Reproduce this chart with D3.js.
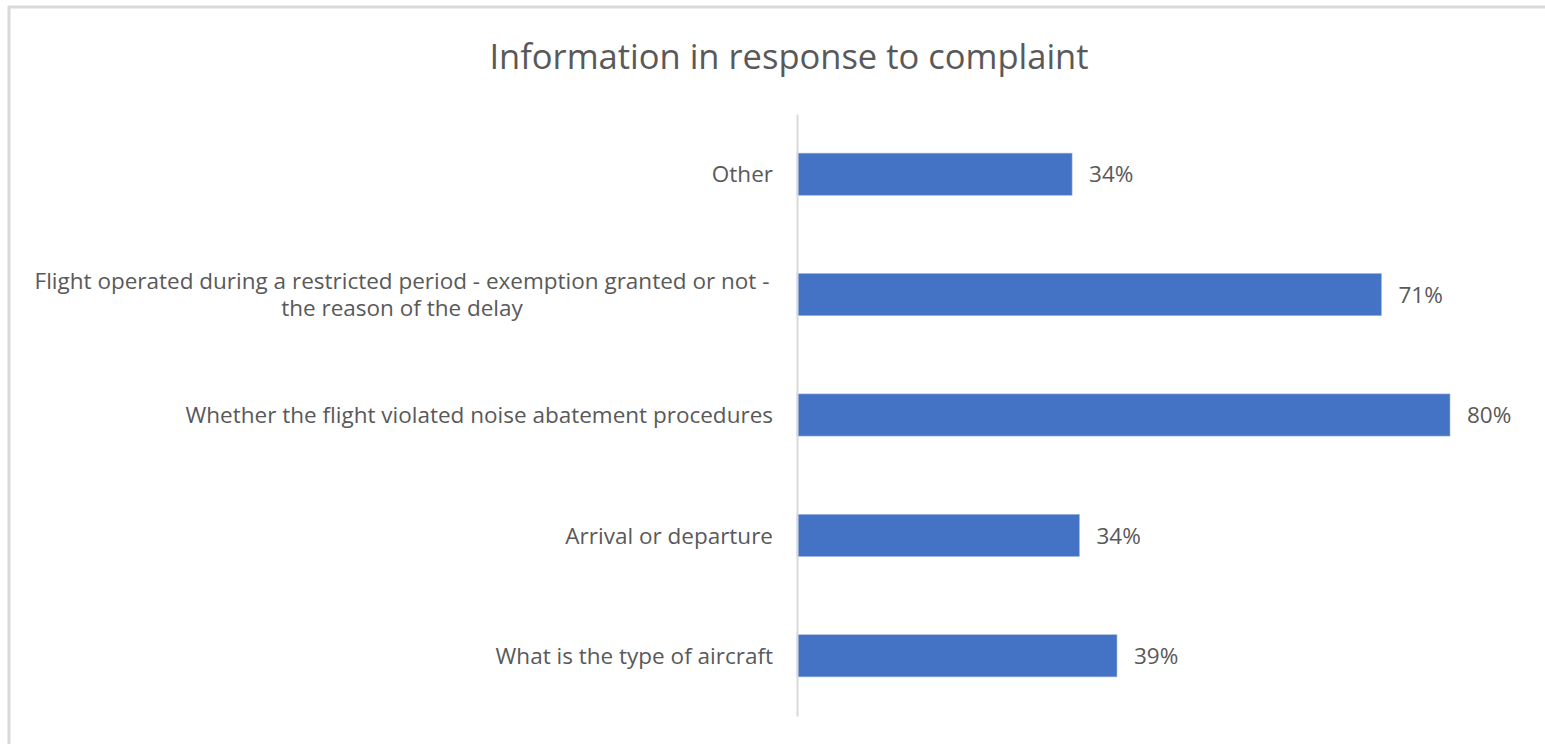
<!DOCTYPE html>
<html><head><meta charset="utf-8">
<script src="https://cdn.jsdelivr.net/npm/d3@7"></script>
<style>html,body{margin:0;padding:0;background:#fff;}svg{display:block;}</style>
</head><body>
<svg id="chart" width="1545" height="744"></svg>
<script>
const title = "Information in response to complaint";
const categories = [
  "Other",
  "Flight operated during a restricted period - exemption granted or not - the reason of the delay",
  "Whether the flight violated noise abatement procedures",
  "Arrival or departure",
  "What is the type of aircraft"
];
const categoryLines = [
  ["Other"],
  ["Flight operated during a restricted period - exemption granted or not -", "the reason of the delay"],
  ["Whether the flight violated noise abatement procedures"],
  ["Arrival or departure"],
  ["What is the type of aircraft"]
];
const values = [0.337, 0.716, 0.80, 0.346, 0.392];
const valueLabels = ["34%", "71%", "80%", "34%", "39%"];

const svg = d3.select("#chart");
const font = "'Open Sans', 'Liberation Sans', sans-serif";
const textColor = "#595959";

// frame
svg.append("line").attr("x1", 8).attr("x2", 1545).attr("y1", 7).attr("y2", 7)
  .attr("stroke", "#d9d9d9").attr("stroke-width", 3);
svg.append("line").attr("x1", 9).attr("x2", 9).attr("y1", 6).attr("y2", 744)
  .attr("stroke", "#d9d9d9").attr("stroke-width", 3);

const plotLeft = 797, plotTop = 114, plotBottom = 716;
const x = d3.scaleLinear().domain([0, 0.9]).range([plotLeft, plotLeft + 653 * 0.9 / 0.8]);
const y = d3.scaleBand().domain(categories).range([plotTop, plotBottom]).paddingInner(0.65).paddingOuter(0.325);

svg.append("text").attr("x", 789).attr("y", 69).attr("text-anchor", "middle")
  .attr("font-family", font).attr("font-size", 34.5).attr("fill", textColor).text(title);

svg.selectAll("rect.bar").data(categories).join("rect").attr("class", "bar")
  .attr("x", x(0)).attr("y", d => y(d))
  .attr("width", (d, i) => x(values[i]) - x(0)).attr("height", y.bandwidth())
  .attr("fill", "#4472C4").attr("stroke", "#9db5e0").attr("stroke-width", 0.6);

svg.selectAll("text.val").data(categories).join("text").attr("class", "val")
  .attr("x", (d, i) => x(values[i]) + 17).attr("y", d => y(d) + y.bandwidth() / 2)
  .attr("dy", "0.36em").attr("font-family", font).attr("font-size", 22.5).attr("fill", textColor)
  .text((d, i) => valueLabels[i]);

const labels = svg.selectAll("text.cat").data(categories).join("text").attr("class", "cat")
  .attr("font-family", font).attr("font-size", 22.5).attr("fill", textColor);
labels.each(function(d, i) {
  const lines = categoryLines[i];
  const cy = y(d) + y.bandwidth() / 2;
  const lh = 27;
  const el = d3.select(this);
  lines.forEach((ln, j) => {
    const ly = cy + (j - (lines.length - 1) / 2) * lh;
    el.append("tspan").attr("x", lines.length > 1 ? 402 : 773).attr("y", ly).attr("dy", "0.36em")
      .attr("text-anchor", lines.length > 1 ? "middle" : "end").text(ln);
  });
});

// axis line
const axis = d3.axisLeft(y).tickSize(0).tickFormat("");
svg.append("g").attr("transform", `translate(${plotLeft},0)`).call(axis)
  .call(g => g.select(".domain").attr("stroke", "#d9d9d9").attr("stroke-width", 2));
</script>
</body></html>
